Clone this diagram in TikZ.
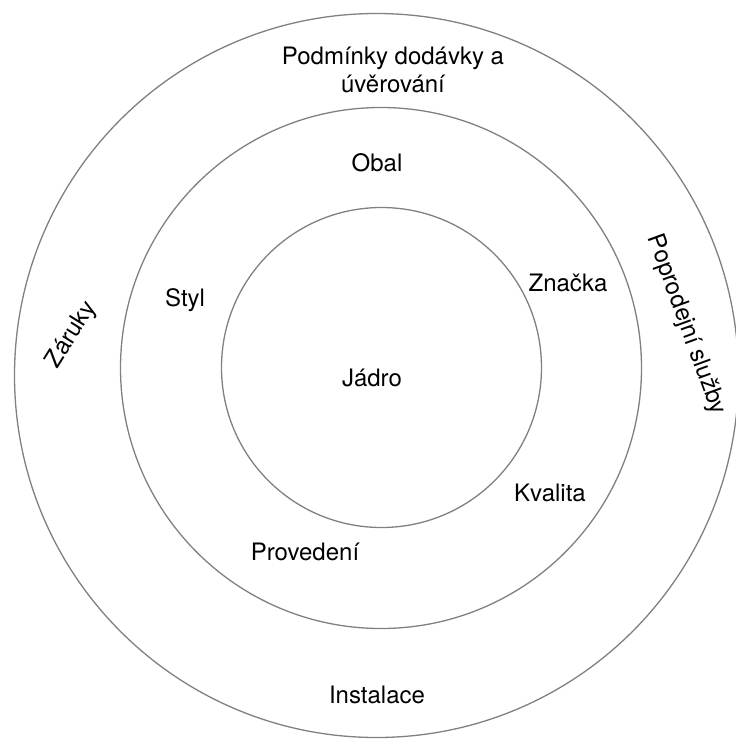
\documentclass[tikz,border=0pt]{standalone}
\usepackage{fontspec}
\setmainfont{TeX Gyre Heros}
\begin{document}
\begin{tikzpicture}[x=1pt,y=-1pt,
  ring/.style={draw=black!50, line width=1.3pt},
  lbl/.style={font=\fontsize{24}{28}\selectfont, inner sep=0pt, align=center}]
\useasboundingbox (0,0) rectangle (736,740);
\draw[ring] (376.5,375.5) circle[radius=362];
\draw[ring] (381,368) circle[radius=260.5];
\draw[ring] (381.5,367.5) circle[radius=160];
\node[lbl] (podminky) at (393,70) {Podmínky dodávky a\\úvěrování};
\node[lbl] (obal) at (377,163) {Obal};
\node[lbl] (styl) at (185,300) {Styl};
\node[lbl] (znacka) at (568,283) {Značka};
\node[lbl] (jadro) at (372,378) {Jádro};
\node[lbl] (kvalita) at (550,493) {Kvalita};
\node[lbl] (provedeni) at (305,552) {Provedení};
\node[lbl] (instalace) at (377,695) {Instalace};
\node[lbl, rotate=58] (zaruky) at (72,335) {Záruky};
\node[lbl, rotate=-70] (sluzby) at (686,325) {Poprodejní služby};
\end{tikzpicture}
\end{document}
